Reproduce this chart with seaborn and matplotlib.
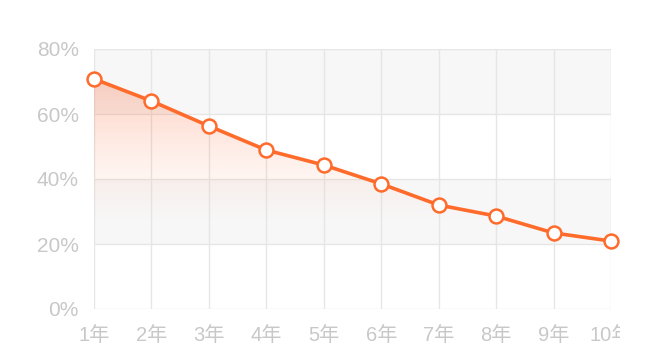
import numpy as np
import pandas as pd
import matplotlib
matplotlib.use("Agg")
import matplotlib.pyplot as plt
import seaborn as sns
from matplotlib.colors import LinearSegmentedColormap
from matplotlib.transforms import Bbox

categories = ["1年", "2年", "3年", "4年", "5年", "6年", "7年", "8年", "9年", "10年"]
values = [70.8, 64.0, 56.3, 48.9, 44.3, 38.5, 32.0, 28.6, 23.4, 20.9]
yticks = [0, 20, 40, 60, 80]
ytick_labels = ["0%", "20%", "40%", "60%", "80%"]

sns.set_theme(style="white")
plt.rcParams['font.family'] = ['Liberation Sans', 'Noto Sans CJK SC', 'DejaVu Sans']

W, H = 650, 362
fig = plt.figure(figsize=(W / 100, H / 100), dpi=100)
ax = fig.add_axes([94 / W, 1 - 309 / H, (611 - 94) / W, (309 - 49) / H])

x = np.arange(len(categories))
df = pd.DataFrame({"x": x, "v": values})

# alternating bands
for lo, hi in [(60, 80), (20, 40)]:
    ax.axhspan(lo, hi, color="#f7f7f7", zorder=0, lw=0)

# grid
for yy in yticks:
    ax.axhline(yy, color="#e6e6e6", lw=1, zorder=1)
for xx in x:
    ax.axvline(xx, color="#e6e6e6", lw=1, zorder=1)

# gradient fill
poly = ax.fill_between(x, values, 0, color="none", lw=0)
cmap = LinearSegmentedColormap.from_list(
    "g", [(1, 1, 1, 0), (0.99, 0.55, 0.35, 0.0), (0.99, 0.45, 0.25, 0.13), (0.98, 0.40, 0.22, 0.30)],
)
grad = np.linspace(0, 1, 256).reshape(-1, 1)
grad = np.clip((grad - 0.06 / 0.9) / (1 - 0.06 / 0.9), 0, 1)
im = ax.imshow(grad, extent=[0, len(categories) - 1, 0, 72], origin="lower",
               aspect="auto", cmap=cmap, zorder=2, vmin=0, vmax=1)
im.set_clip_path(poly.get_paths()[0], transform=ax.transData)
ax.set_xlim(0, len(categories) - 1)
ax.set_ylim(0, 80)

sns.lineplot(data=df, x="x", y="v", ax=ax, color="#ff6b2b", lw=2.6, zorder=4,
             marker="o", markersize=10, markerfacecolor="white",
             markeredgecolor="#ff6b2b", markeredgewidth=1.8, clip_on=False)

ax.set_xticks(x)
ax.set_xticklabels(categories)
ax.set_yticks(yticks)
ax.set_yticklabels(ytick_labels)
ax.tick_params(axis="both", colors="#c8c8c8", labelsize=15, length=0)
ax.tick_params(axis="y", pad=11)
ax.tick_params(axis="x", pad=12, labelsize=14.5)
ax.set_xlabel("")
ax.set_ylabel("")
for s in ax.spines.values():
    s.set_visible(False)

fig.canvas.draw()
clipbox = Bbox.from_extents(0, 0, 620, H)
for lab in ax.get_xticklabels():
    lab.set_clip_box(clipbox)
    lab.set_clip_on(True)

fig.savefig("out.png", dpi=100, facecolor="white")
